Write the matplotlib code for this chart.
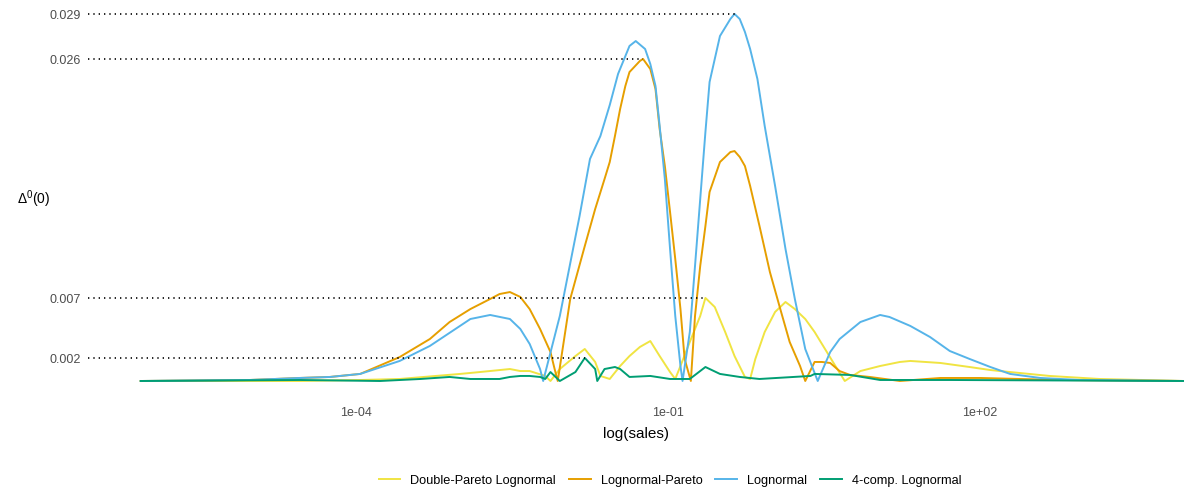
import numpy as np
import matplotlib
matplotlib.use("Agg")
import matplotlib.pyplot as plt

plt.rcParams['font.family'] = ['Liberation Sans', 'DejaVu Sans']
plt.rcParams['mathtext.default'] = 'regular'

# series names and colours (legend order)
names = ["Double-Pareto Lognormal", "Lognormal-Pareto", "Lognormal", "4-comp. Lognormal"]
colors = ["#F0E442", "#E69F00", "#56B4E9", "#009E73"]

# log10(sales) knots and Delta^0(0) values (in 1e-3)
dpl_x = [-6.07, -4.54, -3.96, -3.58, -3.00, -2.81, -2.52, -2.42, -2.33, -2.18, -2.13, -2.04, -1.89, -1.80,
         -1.70, -1.65, -1.56, -1.46, -1.37, -1.27, -1.17, -1.08, -0.98, -0.93, -0.88, -0.79, -0.69, -0.64,
         -0.55, -0.45, -0.36, -0.26, -0.21, -0.16, -0.07, 0.03, 0.13, 0.22, 0.32, 0.41, 0.51, 0.61, 0.70,
         0.85, 1.04, 1.23, 1.33, 1.62, 1.90, 2.10, 2.29, 2.67, 3.15, 3.96]
dpl_y = [0.0, 0.0, 0.08, 0.16, 0.56, 0.71, 0.95, 0.79, 0.79, 0.40, 0.0, 0.95, 1.98, 2.54,
         1.51, 0.40, 0.16, 1.19, 1.98, 2.70, 3.17, 1.98, 0.71, 0.16, 1.19, 3.10, 5.16, 6.59,
         5.87, 3.89, 1.98, 0.32, 0.16, 1.75, 3.89, 5.48, 6.27, 5.71, 4.92, 3.89, 2.54, 1.19, 0.0,
         0.79, 1.19, 1.51, 1.59, 1.43, 1.11, 0.87, 0.71, 0.40, 0.16, 0.0]

lp_x = [-6.07, -5.02, -4.54, -4.25, -3.96, -3.58, -3.29, -3.10, -2.90, -2.71, -2.62, -2.52, -2.42, -2.33,
        -2.23, -2.13, -2.09, -2.06, -1.94, -1.80, -1.70, -1.61, -1.56, -1.51, -1.46, -1.41, -1.37, -1.27,
        -1.24, -1.17, -1.12, -1.08, -1.03, -0.98, -0.93, -0.88, -0.84, -0.78, -0.74, -0.69, -0.64, -0.60,
        -0.50, -0.40, -0.36, -0.31, -0.26, -0.21, -0.12, -0.02, 0.08, 0.17, 0.27, 0.32, 0.41, 0.48, 0.56,
        0.65, 0.75, 0.94, 1.23, 1.62, 2.00, 2.38, 2.77, 3.96]
lp_y = [0.0, 0.08, 0.24, 0.32, 0.56, 1.90, 3.33, 4.68, 5.71, 6.51, 6.90, 7.06, 6.67, 5.71,
        4.13, 2.30, 0.95, 0.0, 6.51, 10.71, 13.65, 16.03, 17.38, 19.44, 21.59, 23.41, 24.52, 25.40,
        25.56, 24.76, 23.17, 20.00, 17.06, 13.41, 9.68, 5.71, 1.75, 0.0, 5.16, 9.13, 12.30, 15.00,
        17.38, 18.17, 18.25, 17.78, 17.06, 15.48, 12.30, 8.65, 5.71, 3.10, 1.19, 0.0, 1.51, 1.51, 1.43,
        0.79, 0.48, 0.32, 0.0, 0.24, 0.24, 0.16, 0.08, 0.0]

ln_x = [-6.07, -5.02, -4.54, -4.25, -3.96, -3.58, -3.29, -3.00, -2.90, -2.71, -2.52, -2.42, -2.33, -2.23,
        -2.20, -2.04, -1.85, -1.75, -1.65, -1.56, -1.48, -1.37, -1.31, -1.22, -1.17, -1.12, -1.08, -1.03,
        -0.98, -0.93, -0.88, -0.86, -0.79, -0.74, -0.69, -0.64, -0.60, -0.55, -0.50, -0.40, -0.36, -0.31,
        -0.26, -0.21, -0.14, -0.07, 0.03, 0.13, 0.22, 0.32, 0.44, 0.56, 0.65, 0.85, 1.04, 1.13, 1.33,
        1.52, 1.71, 1.90, 2.10, 2.29, 2.58, 2.96, 3.96]
ln_y = [0.0, 0.08, 0.24, 0.32, 0.56, 1.59, 2.78, 4.37, 4.92, 5.24, 4.92, 4.13, 2.94, 0.95,
        0.0, 5.16, 13.10, 17.62, 19.44, 21.90, 24.37, 26.59, 26.98, 26.35, 25.16, 23.41, 20.24, 16.03,
        10.48, 5.16, 1.19, 0.0, 3.89, 9.13, 14.44, 19.76, 23.73, 25.56, 27.38, 28.73, 29.13, 28.73,
        27.70, 26.35, 23.97, 20.24, 15.48, 10.48, 6.51, 2.54, 0.0, 2.30, 3.33, 4.68, 5.24, 5.08, 4.37,
        3.49, 2.38, 1.75, 1.11, 0.56, 0.24, 0.08, 0.0]

fc_x = [-6.07, -4.54, -3.77, -3.38, -3.10, -2.90, -2.62, -2.52, -2.42, -2.33, -2.23, -2.18, -2.13, -2.04,
        -1.89, -1.80, -1.70, -1.68, -1.61, -1.51, -1.46, -1.37, -1.17, -0.98, -0.79, -0.64, -0.50, -0.31,
        -0.12, 0.37, 0.41, 0.75, 1.04, 1.71, 3.96]
fc_y = [0.0, 0.08, 0.0, 0.16, 0.32, 0.16, 0.16, 0.32, 0.40, 0.40, 0.32, 0.16, 0.71, 0.0,
        0.71, 1.83, 0.95, 0.0, 0.95, 1.11, 0.95, 0.32, 0.40, 0.16, 0.16, 1.11, 0.56, 0.32,
        0.16, 0.40, 0.56, 0.48, 0.08, 0.08, 0.0]

xs = [dpl_x, lp_x, ln_x, fc_x]
ys = [dpl_y, lp_y, ln_y, fc_y]

fig = plt.figure(figsize=(11.84, 4.89), dpi=100)
ax = fig.add_axes([88 / 1184, 89 / 489, 1 - 88 / 1184, 400 / 489])

xmin = 10 ** -6.577
ax.set_xscale('log')
ax.set_xlim(xmin, 10 ** 3.962)
ax.set_ylim(-0.001429, 0.030317)

peaks = []
for name, col, x, y in zip(names, colors, xs, ys):
    sales = 10 ** np.array(x)
    delta = np.array(y) / 1000
    ax.plot(sales, delta, color=col, lw=1.4, label=name)
    i = np.argmax(delta)
    peaks.append((sales[i], delta[i]))

# dotted guides from the left edge to each series maximum
for px, py in peaks:
    ax.plot([xmin, px], [py, py], color='black', lw=1.2, ls=(0, (0.8, 2.4)))

ax.set_yticks([p[1] for p in peaks])
ax.set_yticklabels(["%.3f" % p[1] for p in peaks])
ax.set_xticks([1e-4, 1e-1, 1e2])
ax.set_xticklabels(["1e-04", "1e-01", "1e+02"])
ax.minorticks_off()
ax.tick_params(length=0, labelsize=9, labelcolor='#4D4D4D')
ax.tick_params(axis='y', pad=5)
ax.tick_params(axis='x', pad=5)
for s in ax.spines.values():
    s.set_visible(False)

ax.set_xlabel("log(sales)", fontsize=11, labelpad=6)
fig.text(34 / 1184, 1 - 199 / 489, "Δ$^0$(0)", fontsize=10, ha='center', va='center')

fig.legend(loc='center', bbox_to_anchor=(670 / 1184, 8 / 489), ncol=4, frameon=False,
           fontsize=9.2, handlelength=1.7, handletextpad=0.8, columnspacing=1.0)

fig.savefig("out.png", dpi=100)
